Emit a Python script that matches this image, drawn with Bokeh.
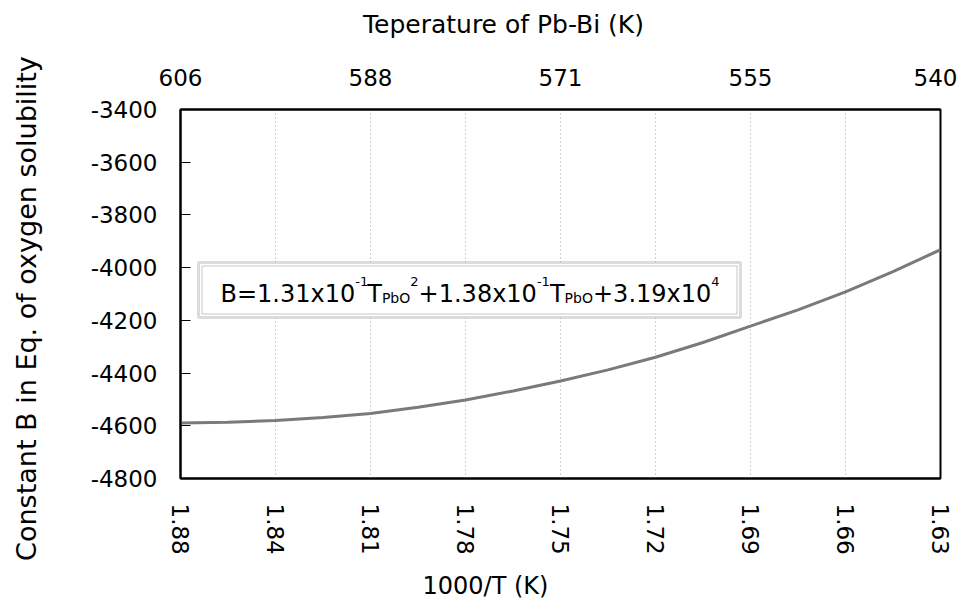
import math
from bokeh.plotting import figure
from bokeh.models import Range1d, LinearAxis, FixedTicker, BoxAnnotation, Label
from bokeh.embed import file_html
from bokeh.resources import INLINE

# ---- data ----
inv_T = [1.875, 1.859375, 1.84375, 1.828125, 1.8125, 1.796875, 1.78125, 1.765625,
         1.75, 1.734375, 1.71875, 1.703125, 1.6875, 1.671875, 1.65625, 1.640625, 1.625]
B_values = [-4589, -4587, -4580, -4569, -4553, -4530, -4502, -4468,
            -4430, -4388, -4340, -4284, -4222, -4160, -4092, -4015, -3932]
bottom_tick_labels = ["1.88", "1.84", "1.81", "1.78", "1.75", "1.72", "1.69", "1.66", "1.63"]
top_tick_labels = ["606", "588", "571", "555", "540"]
y_ticks = [-3400, -3600, -3800, -4000, -4200, -4400, -4600, -4800]
y_tick_labels = ["-3400", "-3600", "-3800", "-4000", "-4200", "-4400", "-4600", "-4800"]

FONT = "DejaVu Sans"

bottom_ticks = inv_T[::2]
top_ticks = inv_T[::4]

p = figure(width=957, height=605,
           x_range=Range1d(inv_T[0], inv_T[-1]), y_range=Range1d(y_ticks[-1], y_ticks[0]),
           output_backend="svg", toolbar_location=None, title_location=None,
           min_border_left=180, min_border_right=17, min_border_top=109, min_border_bottom=127)
p.background_fill_color = "white"
p.border_fill_color = "white"
p.outline_line_color = "black"
p.outline_line_width = 2

# bottom axis
xa = p.xaxis[0]
xa.ticker = FixedTicker(ticks=bottom_ticks)
xa.major_label_overrides = {t: l for t, l in zip(bottom_ticks, bottom_tick_labels)}
xa.major_label_orientation = -math.pi / 2
xa.major_label_text_font = FONT
xa.major_label_text_font_size = "23px"
xa.major_label_text_color = "black"
xa.major_label_standoff = 25
xa.major_tick_in = 0
xa.major_tick_out = 0
xa.minor_tick_in = 0
xa.minor_tick_out = 0
xa.axis_line_color = "black"
xa.axis_line_width = 2

# left axis
ya = p.yaxis[0]
ya.ticker = FixedTicker(ticks=y_ticks)
ya.major_label_overrides = {t: l for t, l in zip(y_ticks, y_tick_labels)}
ya.major_label_text_font = FONT
ya.major_label_text_font_size = "23px"
ya.major_label_text_color = "black"
ya.major_label_standoff = 23
ya.major_tick_in = 10
ya.major_tick_out = 0
ya.minor_tick_in = 0
ya.minor_tick_out = 0
ya.major_tick_line_color = "black"
ya.axis_line_color = "black"
ya.axis_line_width = 2

# top axis
ta = LinearAxis(ticker=FixedTicker(ticks=top_ticks),
                major_label_overrides={t: l for t, l in zip(top_ticks, top_tick_labels)},
                major_label_text_font=FONT, major_label_text_font_size="23px",
                major_label_text_color="black", major_label_standoff=24,
                major_tick_in=0, major_tick_out=0, minor_tick_in=0, minor_tick_out=0,
                axis_line_color="black", axis_line_width=2)
p.add_layout(ta, "above")

# grids
p.ygrid.visible = False
p.xgrid.grid_line_color = "#a0a0a0"
p.xgrid.grid_line_dash = "1 3"
p.xgrid.grid_line_width = 1

# curve
p.line(inv_T, B_values, line_color="#7a7a7a", line_width=3)

# pixel -> data helpers for annotations (frame spans x 180..940, y 109.3..477.7)
X0, X1 = inv_T[0], inv_T[-1]
Y0, Y1 = y_ticks[0], y_ticks[-1]


def px2x(px):
    return X0 + (px - 180) / 760 * (X1 - X0)


def py2y(py):
    return Y0 + (py - 109.3) / 368.4 * (Y1 - Y0)


# axis titles placed in the side panels
p.add_layout(Label(x=px2x(503), y=py2y(24.5), text="Teperature of Pb-Bi (K)", text_font=FONT,
                   text_font_size="25px", text_align="center", text_baseline="middle",
                   text_color="black"), "above")
p.add_layout(Label(x=px2x(485), y=py2y(585), text="1000/T (K)", text_font=FONT,
                   text_font_size="24px", text_align="center", text_baseline="middle",
                   text_color="black"), "below")
p.add_layout(Label(x=px2x(26), y=py2y(308), text="Constant B in Eq. of oxygen solubility",
                   angle=math.pi / 2, text_font=FONT, text_font_size="27px",
                   text_align="center", text_baseline="middle", text_color="black"), "left")

# formula box
p.add_layout(BoxAnnotation(left=px2x(198), right=px2x(740), top=py2y(262), bottom=py2y(317),
                           fill_color="white", fill_alpha=1.0,
                           line_color="#8c8c8c", line_width=3))
p.add_layout(BoxAnnotation(left=px2x(201.5), right=px2x(736.5), top=py2y(265.5),
                           bottom=py2y(313.5), fill_alpha=0.0,
                           line_color="#444444", line_width=1))

MAIN, SUP, SUB = 293.3, 281.5, 297.5
pieces = [
    ("B=1.31x10", 220.0, MAIN, "24px"),
    ("-1", 354.7, SUP, "13px"),
    ("T", 366.7, MAIN, "24px"),
    ("PbO", 381.4, SUB, "14px"),
    ("2", 409.8, SUP, "13px"),
    ("+1.38x10", 418.1, MAIN, "24px"),
    ("-1", 536.4, SUP, "13px"),
    ("T", 549.4, MAIN, "24px"),
    ("PbO", 564.1, SUB, "14px"),
    ("+3.19x10", 592.5, MAIN, "24px"),
    ("4", 710.8, SUP, "13px"),
]
for txt, px, py, fs in pieces:
    p.add_layout(Label(x=px2x(px), y=py2y(py), text=txt, text_font=FONT, text_font_size=fs,
                       text_align="left", text_baseline="alphabetic", text_color="black"))

open("out.html", "w").write(file_html(p, INLINE))
